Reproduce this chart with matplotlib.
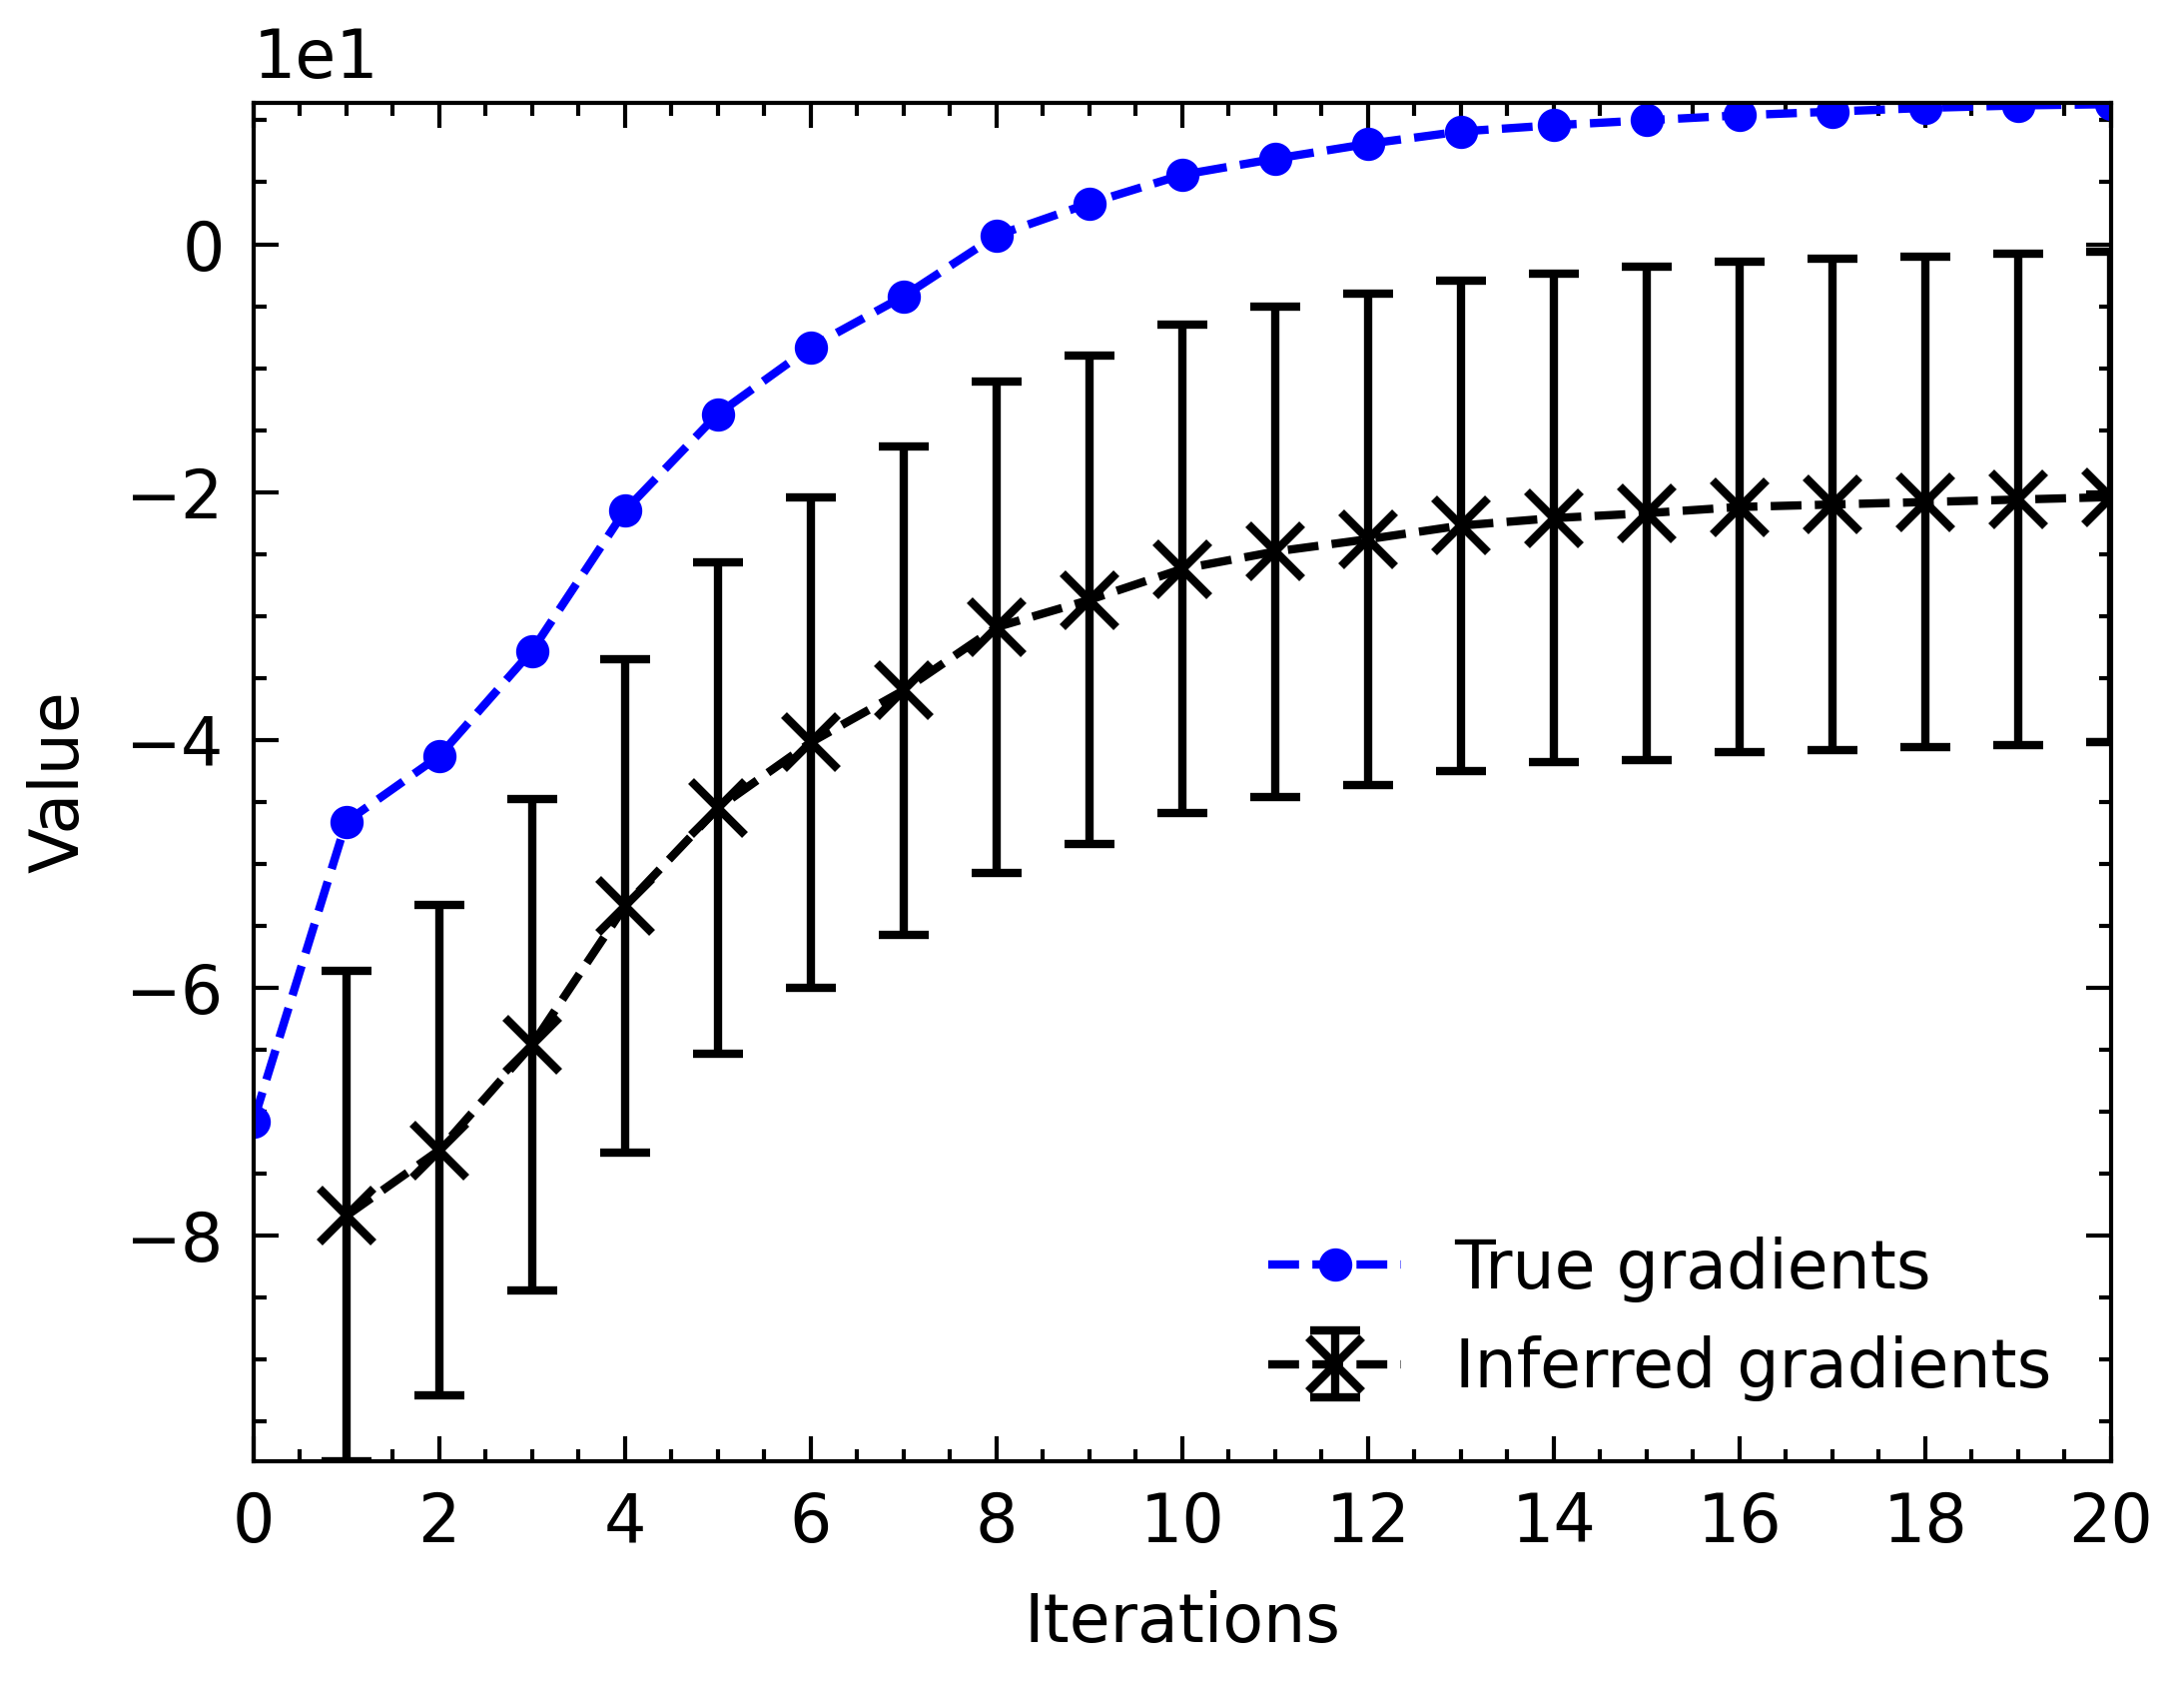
import numpy as np
import matplotlib
matplotlib.use("Agg")
from matplotlib import pyplot as plt

# values (y in raw units, axis shows x1e1)
iters_true = list(range(0, 21))
true_grad = [-70.8, -46.6, -41.3, -32.8, -21.5, -13.7, -8.3, -4.2, 0.7, 3.3,
             5.6, 6.9, 8.1, 9.1, 9.6, 10.0, 10.4, 10.7, 11.0, 11.2, 11.3]

iters_inf = list(range(1, 21))
inferred_grad = [-78.4, -73.1, -64.6, -53.4, -45.5, -40.2, -36.0, -30.9, -28.7,
                 -26.2, -24.8, -23.8, -22.7, -22.1, -21.7, -21.2, -21.0, -20.8,
                 -20.6, -20.4]
inferred_err = [19.8, 19.8, 19.8, 19.9, 19.8, 19.8, 19.7, 19.8, 19.7, 19.7,
                19.8, 19.8, 19.8, 19.7, 19.9, 19.8, 19.8, 19.8, 19.8, 19.8]

plt.rcParams.update({
    "font.family": "DejaVu Sans",
    "font.size": 8,
    "axes.linewidth": 0.5,
    "xtick.direction": "in",
    "ytick.direction": "in",
    "xtick.top": True,
    "ytick.right": True,
    "xtick.major.size": 3,
    "ytick.major.size": 3,
    "xtick.minor.size": 1.5,
    "ytick.minor.size": 1.5,
    "xtick.major.width": 0.5,
    "ytick.major.width": 0.5,
    "xtick.minor.width": 0.5,
    "ytick.minor.width": 0.5,
    "xtick.minor.visible": True,
    "ytick.minor.visible": True,
})

fig = plt.figure(figsize=(2187 / 600, 1684 / 600), dpi=600)
ax = fig.add_axes([0.116, 0.1312, 0.8506, 0.8076])

ax.plot(iters_true, true_grad, "o--", color="blue", lw=1.0, ms=3,
        label="True gradients")
ax.errorbar(iters_inf, inferred_grad, yerr=inferred_err, fmt="x--",
            color="black", lw=1.0, ms=6.5, elinewidth=1.0, capsize=3,
            capthick=1.0, label="Inferred gradients")

ax.set_xlim(0, 20)
ax.set_ylim(-98.2, 11.4)
ax.set_xticks(np.arange(0, 21, 2))
ax.xaxis.set_minor_locator(matplotlib.ticker.MultipleLocator(0.5))
ax.yaxis.set_minor_locator(matplotlib.ticker.MultipleLocator(5))
ax.ticklabel_format(axis="y", style="sci", scilimits=(0, 0))
ax.set_xlabel("Iterations")
ax.set_ylabel("Value")
ax.legend(loc="lower right", frameon=False)

fig.savefig("out.png", dpi=600)
